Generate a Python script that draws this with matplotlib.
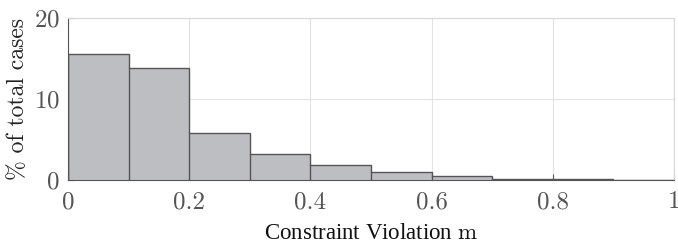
import matplotlib
matplotlib.use("Agg")
import matplotlib.pyplot as plt
import numpy as np

# Histogram data (bin edges and % of cases per bin)
bin_edges = [0.0, 0.1, 0.2, 0.3, 0.4, 0.5, 0.6, 0.7, 0.8, 0.9, 1.0]
percent = [15.6, 13.8, 5.75, 3.25, 1.9, 0.95, 0.5, 0.12, 0.08, 0.0]
x_ticks = [0, 0.2, 0.4, 0.6, 0.8, 1]
y_ticks = [0, 10, 20]

plt.rcParams['font.family'] = ['cmr10', 'DejaVu Serif']
plt.rcParams['mathtext.fontset'] = 'cm'
plt.rcParams['axes.formatter.use_mathtext'] = True

fig = plt.figure(figsize=(6.78, 2.49), dpi=100)
ax = fig.add_axes([68/678, 1 - 180/249, (674-68)/678, (180-18)/249])

ax.stairs(percent, bin_edges, fill=True, facecolor="#bdbec2", edgecolor="none")
ax.stairs(percent, bin_edges, fill=False, color="#555555", linewidth=1.0)
for left, h in zip(bin_edges[:-1], percent):
    if h > 0:
        ax.plot([left, left], [0, h], color="#555555", lw=1.0)

ax.set_xlim(0, 1)
ax.set_ylim(0, 20)
ax.set_xticks(x_ticks)
ax.set_xticklabels(["0", "0.2", "0.4", "0.6", "0.8", "1"])
ax.set_yticks(y_ticks)
ax.grid(True, color="#e3e3e3", linewidth=0.8)
ax.set_axisbelow(True)

ax.tick_params(direction="in", length=4, colors="#555555", labelsize=18, labelcolor="#555555")
ax.tick_params(axis="x", pad=8)
ax.tick_params(axis="y", pad=6)
for s in ["left", "bottom"]:
    ax.spines[s].set_color("#555555")
for s in ["top", "right"]:
    ax.spines[s].set_color("#d8d8d8")

ax.set_ylabel("% of total cases", fontsize=17, color="#222222", labelpad=3)
ax.set_xlabel("Constraint Violation $\\mathrm{m}$", fontsize=16.5, family="Liberation Serif", color="#111111", labelpad=7)

fig.savefig("out.png", dpi=100)
